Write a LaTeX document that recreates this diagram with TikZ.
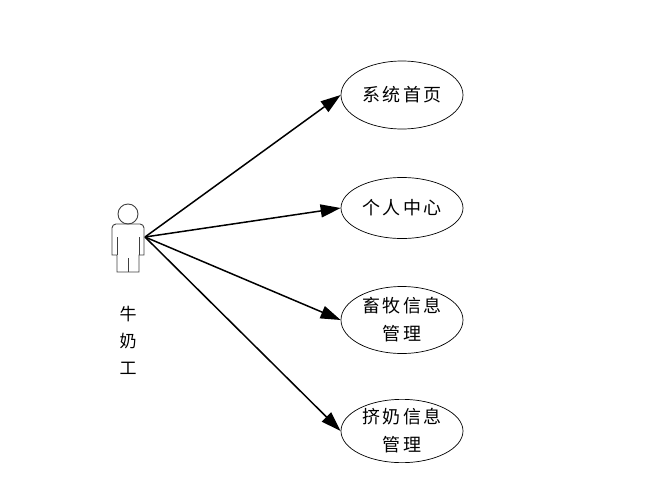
\documentclass[tikz,border=0pt]{standalone}
\usepackage{fontspec}
\newfontfamily\cjk{Noto Sans CJK SC}
\usetikzlibrary{shapes.geometric,arrows.meta}
\newcommand{\cs}{\hspace{2.5pt}}
\begin{document}
\begin{tikzpicture}[x=1pt,y=-1pt,
  uc/.style={draw,line width=0.7pt,ellipse,minimum width=122pt,inner sep=0pt,font=\cjk\fontsize{18}{28}\selectfont,align=center},
  conn/.style={line width=1.5pt,-{Triangle[length=20pt,width=13pt]}},
  actorline/.style={line width=0.9pt,draw=black!75}]
\useasboundingbox (0,0) rectangle (646,490);
% actor
\draw[actorline] (128,214) circle (10);
\draw[actorline] (117,272) -- (117,255) -- (112,255) [rounded corners=4pt] -- (112,224) -- (144,224) [sharp corners] -- (144,255) -- (139,255) -- (139,272) -- cycle;
\draw[actorline] (117,237) -- (117,255) (139,237) -- (139,255) (128,258) -- (128,272);
\coordinate (act) at (145,237);
\node[font=\cjk\fontsize{17}{27}\selectfont,align=center] (lbl) at (128,340) {牛\\奶\\工};
% use cases
\node[uc,minimum height=68pt] (u1) at (402,95) {系\cs 统\cs 首\cs 页};
\node[uc,minimum height=61pt] (u2) at (402,208) {个\cs 人\cs 中\cs 心};
\node[uc,minimum height=67pt] (u3) at (402,320) {畜\cs 牧\cs 信\cs 息\\管\cs 理};
\node[uc,minimum height=63pt] (u4) at (402,431) {挤\cs 奶\cs 信\cs 息\\管\cs 理};
\draw[conn] (act) -- (u1.west);
\draw[conn] (act) -- (u2.west);
\draw[conn] (act) -- (u3.west);
\draw[conn] (act) -- (u4.west);
\end{tikzpicture}
\end{document}
